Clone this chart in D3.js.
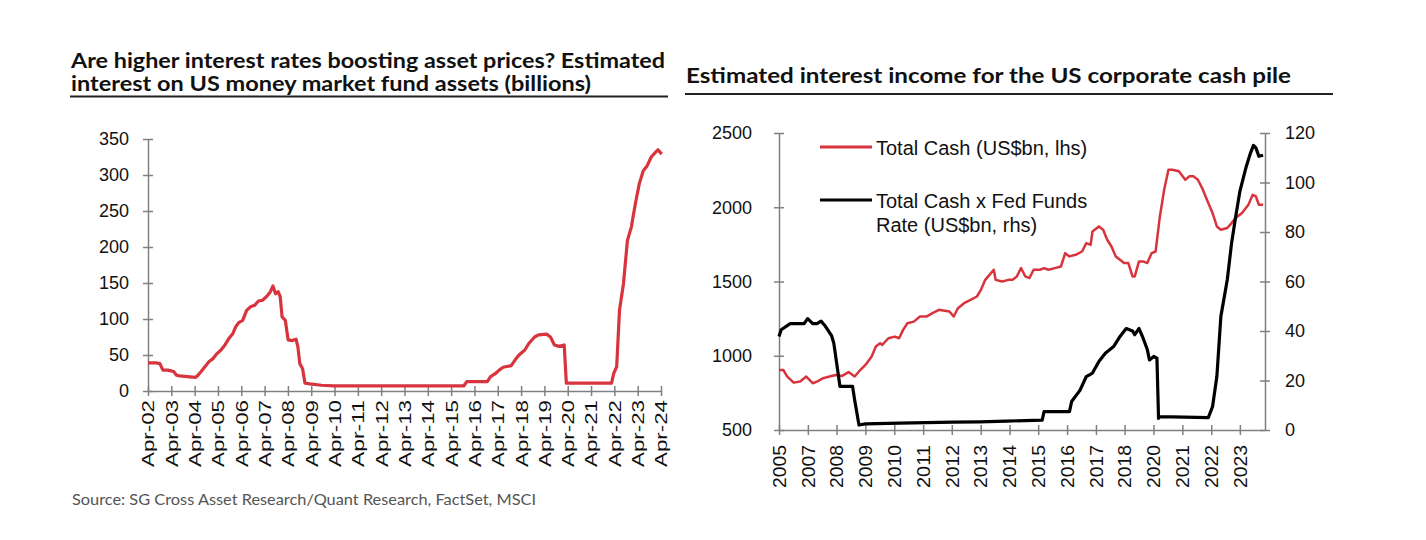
<!DOCTYPE html>
<html>
<head>
<meta charset="utf-8">
<script src="https://cdn.jsdelivr.net/npm/d3@7"></script>
<style>
  html, body { margin: 0; padding: 0; background: #fff; }
  svg { display: block; }
</style>
</head>
<body>
<svg id="chart" width="1426" height="540"></svg>
<script>
// ---------- Left chart data: Estimated interest on US MMF assets (billions) ----------
const mmfYears = [2002.25,2002.59,2002.76,2002.89,2003.10,2003.35,2003.47,2003.60,2003.94,2004.28,2004.37,2004.53,2004.70,2004.87,2005.04,2005.21,2005.38,2005.55,2005.72,2005.89,2006.01,2006.14,2006.31,2006.48,2006.65,2006.82,2006.99,2007.16,2007.33,2007.50,2007.61,2007.72,2007.83,2007.92,2008.00,2008.14,2008.26,2008.43,2008.60,2008.68,2008.76,2008.88,2008.98,2009.19,2009.69,2010.20,2011.5,2012.5,2013.5,2014.5,2015.79,2015.92,2016.80,2016.94,2017.14,2017.31,2017.48,2017.82,2017.99,2018.16,2018.41,2018.58,2018.83,2019.00,2019.34,2019.51,2019.68,2019.88,2020.10,2020.19,2022.13,2022.22,2022.35,2022.47,2022.64,2022.81,2022.98,2023.15,2023.32,2023.49,2023.66,2023.83,2024.00,2024.12,2024.28];
const mmfValues = [39,39,38,29,29,27,22,21,20,19,21,27,34,41,45,52,57,64,73,80,89,95,98,112,117,119,125,126,131,138,146,135,138,131,103,98,71,70,72,61,38,31,11,10,8,7,7,7,7,7,7,13,13,20,24,29,33,35,43,50,57,66,75,78,79,75,64,62,64,11,11,24,34,112,149,209,228,260,288,306,313,325,331,335,329];
const mmfTickYears = d3.range(23).map(i => 2002.25 + i);
const mmfTickLabels = ['Apr-02','Apr-03','Apr-04','Apr-05','Apr-06','Apr-07','Apr-08','Apr-09','Apr-10','Apr-11','Apr-12','Apr-13','Apr-14','Apr-15','Apr-16','Apr-17','Apr-18','Apr-19','Apr-20','Apr-21','Apr-22','Apr-23','Apr-24'];
const mmfYTicks = [0,50,100,150,200,250,300,350];

// ---------- Right chart data ----------
const cashYears = [2006.00,2006.16,2006.31,2006.55,2006.79,2007.02,2007.26,2007.42,2007.65,2007.89,2008.12,2008.36,2008.60,2008.83,2008.99,2009.23,2009.46,2009.62,2009.78,2009.86,2010.09,2010.33,2010.49,2010.64,2010.80,2011.04,2011.27,2011.51,2011.74,2011.98,2012.14,2012.37,2012.53,2012.69,2012.92,2013.16,2013.40,2013.55,2013.71,2013.87,2014.03,2014.10,2014.34,2014.58,2014.73,2014.89,2015.05,2015.21,2015.36,2015.52,2015.76,2015.91,2016.07,2016.31,2016.54,2016.70,2016.86,2017.09,2017.33,2017.49,2017.65,2017.72,2017.96,2018.12,2018.27,2018.43,2018.59,2018.75,2018.90,2019.06,2019.22,2019.30,2019.46,2019.61,2019.77,2019.93,2020.08,2020.24,2020.40,2020.56,2020.71,2020.95,2021.19,2021.34,2021.50,2021.66,2021.82,2022.05,2022.21,2022.37,2022.52,2022.76,2022.92,2023.07,2023.31,2023.55,2023.71,2023.83,2023.94,2024.10];
const cashValues = [904,904,860,819,826,860,815,826,849,860,870,864,890,860,894,938,994,1062,1084,1073,1118,1129,1118,1174,1219,1230,1264,1264,1287,1309,1305,1298,1264,1320,1354,1376,1399,1444,1511,1545,1579,1511,1500,1511,1511,1534,1590,1534,1523,1579,1579,1590,1579,1590,1601,1691,1669,1680,1702,1758,1747,1837,1871,1849,1781,1736,1669,1646,1624,1624,1534,1534,1635,1635,1624,1691,1702,1938,2118,2253,2253,2242,2185,2208,2208,2185,2129,2028,1961,1871,1849,1860,1893,1927,1961,2017,2084,2073,2017,2017];
const fedYears = [2006.00,2006.08,2006.42,2006.94,2007.07,2007.26,2007.42,2007.57,2007.73,2007.97,2008.05,2008.28,2008.75,2008.83,2008.99,2009.23,2010.5,2011.5,2012.5,2013.5,2014.5,2015.84,2015.91,2016.86,2016.94,2017.25,2017.49,2017.72,2017.96,2018.20,2018.51,2018.75,2018.98,2019.22,2019.30,2019.46,2019.61,2019.77,2019.85,2020.01,2020.13,2020.19,2020.24,2022.05,2022.21,2022.37,2022.52,2022.76,2022.92,2023.07,2023.23,2023.47,2023.63,2023.74,2023.83,2023.94,2024.10];
const fedValues = [37.8,40.5,43,43,45,43,43,44,42,38,35,17.6,17.6,12,2,2.5,2.8,3.0,3.2,3.3,3.6,4.0,7.4,7.4,11.5,16,21.6,23,27.7,31,33.7,37.8,41,40,38.5,41,37.2,32.5,28.3,29.7,29,4.7,5.4,5,9.5,21.6,45.9,60.7,75.5,86,96.4,106.5,112,115,114,110.6,111];
const rightTickYears = [2006.00,2007.08,2008.15,2009.23,2010.31,2011.39,2012.46,2013.54,2014.62,2015.69,2016.77,2017.85,2018.92,2020.00,2021.08,2022.16,2023.23];
const rightTickLabels = ['2005','2007','2008','2009','2010','2011','2012','2013','2014','2015','2016','2017','2018','2020','2021','2022','2023'];
const cashTicks = [500,1000,1500,2000,2500];
const fedTicks = [0,20,40,60,80,100,120];
const legendLabels = [['Total Cash (US$bn, lhs)'], ['Total Cash x Fed Funds', 'Rate (US$bn, rhs)']];

const RED = '#d7343e';
const AXIS = '#808080';
const svg = d3.select('#chart');
const titleFont = 'Lato, "Open Sans", sans-serif';
const tickFont = '"Liberation Sans", Arial, sans-serif';
const fmt = d3.format('d');

function crossTicks(g, dir) {
  g.select('.domain').attr('stroke', AXIS).attr('stroke-width', 1.5);
  g.selectAll('.tick line').attr('stroke', AXIS).attr('stroke-width', 1.5);
  if (dir === 'y') g.selectAll('.tick line').attr('x1', -5).attr('x2', 5);
  else g.selectAll('.tick line').attr('y1', -5).attr('y2', 5);
  g.selectAll('.tick text').attr('fill', '#111').style('font-family', tickFont).style('font-size', '18px');
}

// ---------- Titles ----------
svg.append('text').attr('x', 71).attr('y', 68).attr('textLength', 594).attr('lengthAdjust', 'spacingAndGlyphs')
  .style('font-family', titleFont).style('font-weight', 700).style('font-size', '20px').attr('fill', '#111')
  .text('Are higher interest rates boosting asset prices? Estimated');
svg.append('text').attr('x', 71).attr('y', 91).attr('textLength', 520).attr('lengthAdjust', 'spacingAndGlyphs')
  .style('font-family', titleFont).style('font-weight', 700).style('font-size', '20px').attr('fill', '#111')
  .text('interest on US money market fund assets (billions)');
svg.append('line').attr('x1', 70).attr('x2', 668).attr('y1', 96.5).attr('y2', 96.5).attr('stroke', '#222').attr('stroke-width', 2);

svg.append('text').attr('x', 686).attr('y', 83).attr('textLength', 605).attr('lengthAdjust', 'spacingAndGlyphs')
  .style('font-family', titleFont).style('font-weight', 700).style('font-size', '20px').attr('fill', '#111')
  .text('Estimated interest income for the US corporate cash pile');
svg.append('line').attr('x1', 685).attr('x2', 1333).attr('y1', 94).attr('y2', 94).attr('stroke', '#222').attr('stroke-width', 2);

svg.append('text').attr('x', 72).attr('y', 505).attr('textLength', 464).attr('lengthAdjust', 'spacingAndGlyphs')
  .style('font-family', titleFont).style('font-size', '15px').attr('fill', '#555')
  .text('Source: SG Cross Asset Research/Quant Research, FactSet, MSCI');

// ---------- Left chart ----------
const xL = d3.scaleLinear().domain([2002.25, 2024.25]).range([148, 661]);
const yL = d3.scaleLinear().domain([0, 350]).range([391, 139]);

const gLy = svg.append('g').attr('transform', `translate(${xL.range()[0]},0)`)
  .call(d3.axisLeft(yL).tickValues(mmfYTicks).tickFormat(fmt).tickSize(5).tickSizeOuter(0).tickPadding(14));
crossTicks(gLy, 'y');

const gLx = svg.append('g').attr('transform', `translate(0,${yL(0)})`)
  .call(d3.axisBottom(xL).tickValues(mmfTickYears).tickFormat((d, i) => mmfTickLabels[i]).tickSize(5).tickSizeOuter(0));
crossTicks(gLx, 'x');
gLx.selectAll('.tick text')
  .attr('transform', 'rotate(-90)').attr('text-anchor', 'end').attr('x', -9).attr('y', 0).attr('dy', '0.35em')
  .style('font-size', '17px').attr('textLength', 67).attr('lengthAdjust', 'spacingAndGlyphs');

svg.append('path').datum(mmfYears.map((d, i) => [d, mmfValues[i]]))
  .attr('fill', 'none').attr('stroke', RED).attr('stroke-width', 3.2).attr('stroke-linejoin', 'round')
  .attr('d', d3.line().x(d => xL(d[0])).y(d => yL(d[1])));

// ---------- Right chart ----------
const xR = d3.scaleLinear().domain([2006.0, 2024.17]).range([779, 1265]);
const yR1 = d3.scaleLinear().domain([500, 2500]).range([430, 133]);
const yR2 = d3.scaleLinear().domain([0, 120]).range([430, 133]);

const gR1 = svg.append('g').attr('transform', `translate(${xR.range()[0]},0)`)
  .call(d3.axisLeft(yR1).tickValues(cashTicks).tickFormat(fmt).tickSize(5).tickSizeOuter(0).tickPadding(22));
crossTicks(gR1, 'y');

const gR2 = svg.append('g').attr('transform', `translate(${xR.range()[1]},0)`)
  .call(d3.axisRight(yR2).tickValues(fedTicks).tickFormat(fmt).tickSize(5).tickSizeOuter(0).tickPadding(15));
crossTicks(gR2, 'y');

const gRx = svg.append('g').attr('transform', `translate(0,${yR1(500)})`)
  .call(d3.axisBottom(xR).tickValues(rightTickYears).tickFormat((d, i) => rightTickLabels[i]).tickSize(5).tickSizeOuter(0));
crossTicks(gRx, 'x');
gRx.selectAll('.tick text')
  .attr('transform', 'rotate(-90)').attr('text-anchor', 'end').attr('x', -15).attr('y', 0).attr('dy', '0.35em')
  .style('font-size', '18px').attr('textLength', 43).attr('lengthAdjust', 'spacingAndGlyphs');

svg.append('path').datum(cashYears.map((d, i) => [d, cashValues[i]]))
  .attr('fill', 'none').attr('stroke', RED).attr('stroke-width', 2.5).attr('stroke-linejoin', 'round')
  .attr('d', d3.line().x(d => xR(d[0])).y(d => yR1(d[1])));

svg.append('path').datum(fedYears.map((d, i) => [d, fedValues[i]]))
  .attr('fill', 'none').attr('stroke', '#000').attr('stroke-width', 3.2).attr('stroke-linejoin', 'round')
  .attr('d', d3.line().x(d => xR(d[0])).y(d => yR2(d[1])));

// ---------- Legend ----------
const legColors = [RED, '#000'];
const legY = [147, 200];
legendLabels.forEach((lines, i) => {
  svg.append('line').attr('x1', 820).attr('x2', 872).attr('y1', legY[i]).attr('y2', legY[i])
    .attr('stroke', legColors[i]).attr('stroke-width', 3.2);
  lines.forEach((t, j) => {
    svg.append('text').attr('x', 876).attr('y', legY[i] + 7.5 + j * 24)
      .style('font-family', tickFont).style('font-size', '20px').attr('fill', '#111').text(t);
  });
});
</script>
</body>
</html>
